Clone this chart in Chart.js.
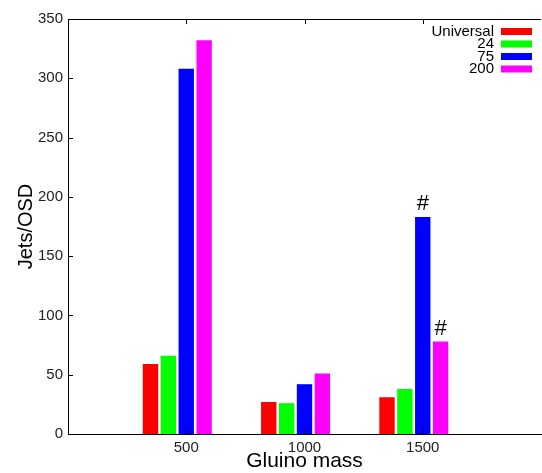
<!DOCTYPE html>
<html>
<head>
<meta charset="utf-8">
<script src="https://cdn.jsdelivr.net/npm/chart.js@4"></script>
<style>
  html, body { margin: 0; padding: 0; background: #fff; overflow: hidden; }
  #wrap { width: 546px; height: 473px; }
</style>
</head>
<body>
<div id="wrap"><canvas id="gluino"></canvas></div>
<script>
// gluino mass points, empty slots at 0 and 2000 keep the axis range
var masses = ["", "500", "1000", "1500", ""];
var seriesNames = ["Universal", "24", "75", "200"];
var universal = [null, 59, 27, 31, null];
var cut24 = [null, 66, 26, 38, null];
var cut75 = [null, 308, 42, 183, null];
var cut200 = [null, 332, 51, 78, null];
var colors = ["#ff0000", "#00ff00", "#0000ff", "#ff00ff"];
// bars marked with "#": [dataset index, category index]
var hashMarks = [[2, 3], [3, 3]];

var series = [universal, cut24, cut75, cut200];
var datasets = series.map(function (d, i) {
  return {
    label: seriesNames[i],
    data: d,
    backgroundColor: colors[i],
    borderWidth: 0,
    barPercentage: 0.86,
    categoryPercentage: 0.756,
  };
});
// empty fifth slot so the group sits like the gnuplot histogram
datasets.push({ label: "", data: [null, null, null, null, null], barPercentage: 0.86, categoryPercentage: 0.756 });

var extras = {
  id: "extras",
  afterDraw: function (chart) {
    var c = chart.ctx, a = chart.chartArea;
    var x = chart.scales.x, y = chart.scales.y;
    c.save();
    c.strokeStyle = "#000";
    c.lineWidth = 1;
    // top border
    c.beginPath();
    c.moveTo(a.left, a.top + 0.5);
    c.lineTo(a.right, a.top + 0.5);
    c.stroke();
    // inward ticks on left axis
    y.ticks.forEach(function (t) {
      var py = Math.round(y.getPixelForValue(t.value)) + 0.5;
      c.beginPath();
      c.moveTo(a.left, py);
      c.lineTo(a.left + 5, py);
      c.stroke();
    });
    // inward ticks on top and bottom borders
    masses.forEach(function (m, i) {
      if (!m) return;
      var px = Math.round(x.getPixelForValue(i)) + 0.5;
      c.beginPath();
      c.moveTo(px, a.top);
      c.lineTo(px, a.top + 5);
      c.moveTo(px, a.bottom);
      c.lineTo(px, a.bottom - 5);
      c.stroke();
    });
    // legend, text right of box
    c.font = "15px 'Liberation Sans', Arial, sans-serif";
    c.textAlign = "right";
    c.textBaseline = "middle";
    seriesNames.forEach(function (n, i) {
      var ly = 31.5 + i * 12.5;
      c.fillStyle = "#000";
      c.fillText(n, 494, ly);
      c.fillStyle = colors[i];
      c.fillRect(501, ly - 3.5, 31, 7);
    });
    // "#" marks
    c.fillStyle = "#000";
    c.textAlign = "center";
    c.textBaseline = "bottom";
    c.font = "22px 'Liberation Sans', Arial, sans-serif";
    hashMarks.forEach(function (h) {
      var bar = chart.getDatasetMeta(h[0]).data[h[1]];
      c.fillText("#", bar.x, bar.y - 2);
    });
    c.restore();
  },
};

var ctx = document.getElementById("gluino").getContext("2d");
var gluinoChart = new Chart(ctx, {
  type: "bar",
  data: { labels: masses, datasets: datasets },
  options: {
    responsive: true,
    maintainAspectRatio: false,
    animation: false,
    layout: { padding: { top: 19, right: 2, left: 0, bottom: 0 } },
    plugins: {
      legend: { display: false },
      tooltip: { enabled: false },
    },
    scales: {
      x: {
        offset: false,
        grid: { display: false, drawTicks: false },
        border: { display: true, color: "#000", width: 1 },
        ticks: {
          padding: 5,
          color: "#222",
          maxRotation: 0,
          autoSkip: false,
          font: { family: "'Liberation Sans', Arial, sans-serif", size: 15 },
        },
        title: {
          display: true,
          text: "Gluino mass",
          color: "#000",
          padding: 0,
          font: { family: "'Liberation Sans', Arial, sans-serif", size: 21, lineHeight: 1.1 },
        },
        afterFit: function (s) { s.height = 39; },
      },
      y: {
        min: 0,
        max: 350,
        grid: { display: false, drawTicks: false },
        border: { display: true, color: "#000", width: 1 },
        ticks: {
          stepSize: 50,
          padding: 5,
          color: "#222",
          font: { family: "'Liberation Sans', Arial, sans-serif", size: 15 },
        },
        title: {
          display: true,
          text: "Jets/OSD",
          color: "#000",
          padding: { top: 14, bottom: 0 },
          font: { family: "'Liberation Sans', Arial, sans-serif", size: 20 },
        },
        afterFit: function (s) { s.width = 68; },
      },
    },
  },
  plugins: [extras],
});
</script>
</body>
</html>
